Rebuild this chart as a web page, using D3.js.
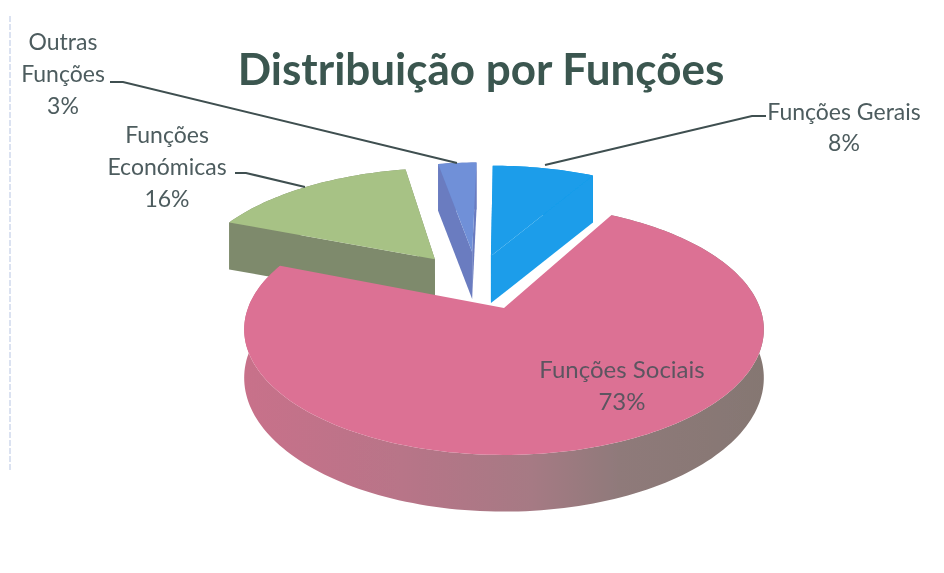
<!DOCTYPE html>
<html>
<head>
<meta charset="utf-8">
<script src="https://cdn.jsdelivr.net/npm/d3@7"></script>
<style>
  html, body { margin: 0; padding: 0; background: #fff; }
  svg { display: block; }
  text { font-family: Lato, "Open Sans", sans-serif; }
</style>
</head>
<body>
<svg id="chart"></svg>
<script>
// slices, clockwise from 12 o'clock
var categories = ["Funções Gerais", "Funções Sociais", "Funções Económicas", "Outras Funções"];
var values = [8, 73, 16, 3];

var width = 944, height = 573;

// how the pie sits on the page
var cx = 504, cy = 308, rx = 256, ry = 121.8, persp = 0.171, thick = 47;

// explosion of each slice, in pie radius units
var explode = [[-0.055, -0.46], [0, 0], [-0.29, -0.43], [-0.135, -0.5]];

var topColors = ["#1a9dea", "#dc7194", "#a7c285", "#6f90d8"];
var wallColors = ["#1a9dea", "url(#wallPink)", "#7e8a6c", "#6a7cc0"];
// layers back to front
var drawOrder = [3, 2, 0, 1];

// label lines, position of the text block and of its leader
var labelLines = [["Funções Gerais", "8%"], ["Funções Sociais", "73%"], ["Funções", "Económicas", "16%"], ["Outras", "Funções", "3%"]];
var labelX = [844, 622, 167, 63];
var labelY = [120, 378, 143, 50];
var labelStep = [31, 32, 32, 32];
var labelSize = [23, 24, 23, 23];
var leaders = [
  [[545, 165], [752, 116], [766, 116]],
  null,
  [[235, 173], [246, 173], [305, 187]],
  [[110, 82], [123, 82], [457, 163]]
];

var svg = d3.select("#chart").attr("width", width).attr("height", height);

var defs = svg.append("defs");
defs.append("filter").attr("id", "soft")
  .append("feGaussianBlur").attr("stdDeviation", 0.6);
defs.append("filter").attr("id", "softText")
  .append("feGaussianBlur").attr("stdDeviation", 0.4);

var grad = defs.append("linearGradient").attr("id", "wallPink")
  .attr("gradientUnits", "userSpaceOnUse")
  .attr("x1", 245).attr("x2", 765).attr("y1", 0).attr("y2", 0);
[[0, "#c8718a"], [0.3, "#b87488"], [0.55, "#a67a84"], [0.72, "#8f7a7a"], [1, "#857772"]].forEach(function(s) {
  grad.append("stop").attr("offset", s[0]).attr("stop-color", s[1]);
});

// scan edge on the left of the page
svg.append("line")
  .attr("x1", 10).attr("x2", 10).attr("y1", 16).attr("y2", 470)
  .attr("stroke", "#c4cfe8").attr("stroke-width", 1.2).attr("stroke-dasharray", "6 2");

var arcs = d3.pie().sort(null).value(function(d) { return d; })(values);

// pie plane -> page, nearer points get bigger
function project(X, Y, down) {
  var s = 1 / (1 - persp * Y);
  return [cx + rx * X * s, cy + ry * Y * s + (down ? thick * Math.max(1, s) : 0)];
}

function rim(arc, off) {
  var n = Math.max(4, Math.ceil((arc.endAngle - arc.startAngle) * 40));
  return d3.range(n + 1).map(function(i) {
    var a = arc.startAngle + (arc.endAngle - arc.startAngle) * i / n;
    return [off[0] + Math.sin(a), off[1] - Math.cos(a)];
  });
}

var line = d3.line();

function sidePath(points) {
  var up = points.map(function(p) { return project(p[0], p[1], false); });
  var dn = points.map(function(p) { return project(p[0], p[1], true); }).reverse();
  return line(up.concat(dn)) + "Z";
}

var pie = svg.append("g").attr("filter", "url(#soft)");

drawOrder.forEach(function(i) {
  var arc = arcs[i], off = explode[i], edge = rim(arc, off);
  var g = pie.append("g").attr("class", "slice");

  g.append("path").attr("d", sidePath(edge)).attr("fill", wallColors[i]);

  // the pink slice shows no cut faces, it is in front with its cuts to the back
  if (i !== 1) {
    g.append("path").attr("d", sidePath([edge[edge.length - 1], off])).attr("fill", wallColors[i]);
    g.append("path").attr("d", sidePath([off, edge[0]])).attr("fill", wallColors[i]);
  }

  var face = [off].concat(edge).map(function(p) { return project(p[0], p[1], false); });
  g.append("path").attr("d", line(face) + "Z").attr("fill", topColors[i]);
});

// leaders
var leadG = svg.append("g").attr("fill", "none").attr("stroke", "#3f4f50").attr("stroke-width", 2);
leaders.forEach(function(l) {
  if (l) leadG.append("path").attr("d", line(l));
});

// labels
var labelsG = svg.append("g").attr("filter", "url(#softText)");

categories.forEach(function(c, i) {
  var t = labelsG.append("text")
    .attr("text-anchor", "middle")
    .attr("font-size", labelSize[i])
    .attr("fill", i === 1 ? "#5c5560" : "#4d5c5e");
  labelLines[i].forEach(function(s, j) {
    t.append("tspan")
      .attr("x", labelX[i])
      .attr("y", labelY[i] + j * labelStep[i])
      .text(s);
  });
});

labelsG.append("text")
  .attr("x", 481).attr("y", 85)
  .attr("text-anchor", "middle")
  .attr("font-size", 44)
  .attr("font-weight", 700)
  .attr("fill", "#3a5650")
  .text("Distribuição por Funções");
</script>
</body>
</html>
